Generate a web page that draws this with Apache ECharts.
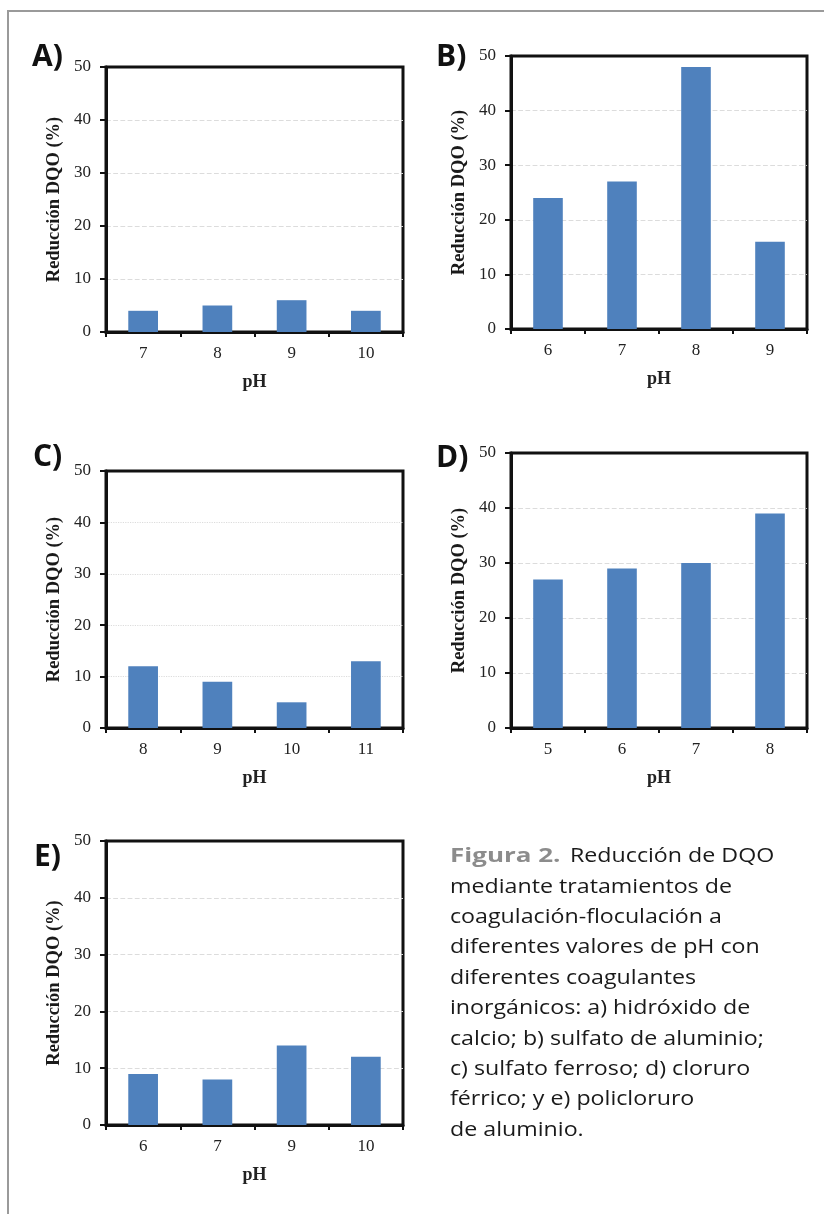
<!DOCTYPE html>
<html>
<head>
<meta charset="utf-8">
<script src="https://cdn.jsdelivr.net/npm/echarts@6/dist/echarts.min.js"></script>
<style>
html,body{margin:0;padding:0;background:#fff;}
#c{width:824px;height:1214px;}
</style>
</head>
<body>
<div id="c"></div>
<script>
// ---- data ----
var panelLabels = ['A)', 'B)', 'C)', 'D)', 'E)'];
var catsA = ['7', '8', '9', '10'];
var valsA = [4, 5, 6, 4];
var catsB = ['6', '7', '8', '9'];
var valsB = [24, 27, 48, 16];
var catsC = ['8', '9', '10', '11'];
var valsC = [12, 9, 5, 13];
var catsD = ['5', '6', '7', '8'];
var valsD = [27, 29, 30, 39];
var catsE = ['6', '7', '9', '10'];
var valsE = [9, 8, 14, 12];
var yTitle = 'Reducción DQO (%)';
var xTitle = 'pH';
var captionBold = 'Figura 2.';
var captionLines = [
  'Reducción de DQO',
  'mediante tratamientos de',
  'coagulación-floculación a',
  'diferentes valores de pH con',
  'diferentes coagulantes',
  'inorgánicos: a) hidróxido de',
  'calcio; b) sulfato de aluminio;',
  'c) sulfato ferroso; d) cloruro',
  'férrico; y e) policloruro',
  'de aluminio.'
];

// ---- layout ----
var grids = [
  {left: 106, top: 67, width: 297, height: 265},
  {left: 511, top: 56, width: 296, height: 273},
  {left: 106, top: 471, width: 297, height: 257},
  {left: 511, top: 453, width: 296, height: 275},
  {left: 106, top: 841, width: 297, height: 284}
];
var labelPos = [[32, 42], [436, 42], [33, 442], [436, 443], [34, 842]];
var allCats = [catsA, catsB, catsC, catsD, catsE];
var allVals = [valsA, valsB, valsC, valsD, valsE];
var splitTypes = ['dashed', 'dashed', 'dotted', 'dashed', 'dashed'];

var serif = '"Liberation Serif", "Times New Roman", serif';
var sans = '"Open Sans", "Noto Sans", sans-serif';

var gridOpt = [], xAxes = [], yAxes = [], series = [], graphic = [];
for (var i = 0; i < 5; i++) {
  gridOpt.push({left: grids[i].left, top: grids[i].top, width: grids[i].width, height: grids[i].height,
    show: true, borderColor: '#111', borderWidth: 3, backgroundColor: 'transparent', containLabel: false});
  xAxes.push({
    type: 'category', gridIndex: i, data: allCats[i],
    axisLine: {lineStyle: {color: '#111', width: 3}},
    axisTick: {show: true, length: 5, lineStyle: {color: '#111', width: 2}},
    axisLabel: {margin: 13, color: '#222', fontFamily: serif, fontSize: 17},
    name: xTitle, nameLocation: 'middle', nameGap: 41,
    nameTextStyle: {color: '#222', fontFamily: serif, fontSize: 18, fontWeight: 'bold'}
  });
  yAxes.push({
    type: 'value', gridIndex: i, min: 0, max: 50, interval: 10,
    axisLine: {show: true, lineStyle: {color: '#111', width: 3}},
    axisTick: {show: true, length: 6, lineStyle: {color: '#111', width: 2}},
    axisLabel: {margin: 15, color: '#222', fontFamily: serif, fontSize: 17},
    splitLine: {show: true, showMaxLine: false, showMinLine: false,
      lineStyle: {color: '#dcdcdc', width: 1.2, type: splitTypes[i]}},
    name: yTitle, nameLocation: 'middle', nameRotate: 90, nameGap: 42,
    nameTextStyle: {color: '#1a1a1a', fontFamily: serif, fontSize: 18.5, fontWeight: 'bold'}
  });
  series.push({
    type: 'bar', xAxisIndex: i, yAxisIndex: i, data: allVals[i], barWidth: '40%',
    itemStyle: {color: '#4f81bd'}, silent: true
  });
  graphic.push({
    type: 'text', left: labelPos[i][0], top: labelPos[i][1],
    style: {text: panelLabels[i], fontFamily: sans, fontWeight: 'bold', fontSize: 30, fill: '#111'}
  });
}
// outer border (left & top)
graphic.push({type: 'line', shape: {x1: 8, y1: 11, x2: 8, y2: 1214}, style: {stroke: '#9a9a9a', lineWidth: 2}});
graphic.push({type: 'line', shape: {x1: 7, y1: 11, x2: 824, y2: 11}, style: {stroke: '#9a9a9a', lineWidth: 2}});
// caption
var capX = 450, capY0 = 863 - 6.5, capLH = 30.4;
graphic.push({
  type: 'text', x: capX, y: capY0, scaleX: 1.3,
  style: {text: captionBold, verticalAlign: 'middle', fontFamily: sans, fontWeight: 'bold', fontSize: 20, fill: '#8c8c8c'}
});
for (var k = 0; k < captionLines.length; k++) {
  graphic.push({
    type: 'text', x: k === 0 ? 570 : capX, y: capY0 + k * capLH, scaleX: 1.16,
    style: {text: captionLines[k], verticalAlign: 'middle', fontFamily: sans, fontSize: 20, fill: '#1a1a1a'}
  });
}

var chart = echarts.init(document.getElementById('c'), null, {renderer: 'canvas'});
chart.setOption({
  animation: false,
  grid: gridOpt, xAxis: xAxes, yAxis: yAxes, series: series, graphic: graphic
});
</script>
</body>
</html>
